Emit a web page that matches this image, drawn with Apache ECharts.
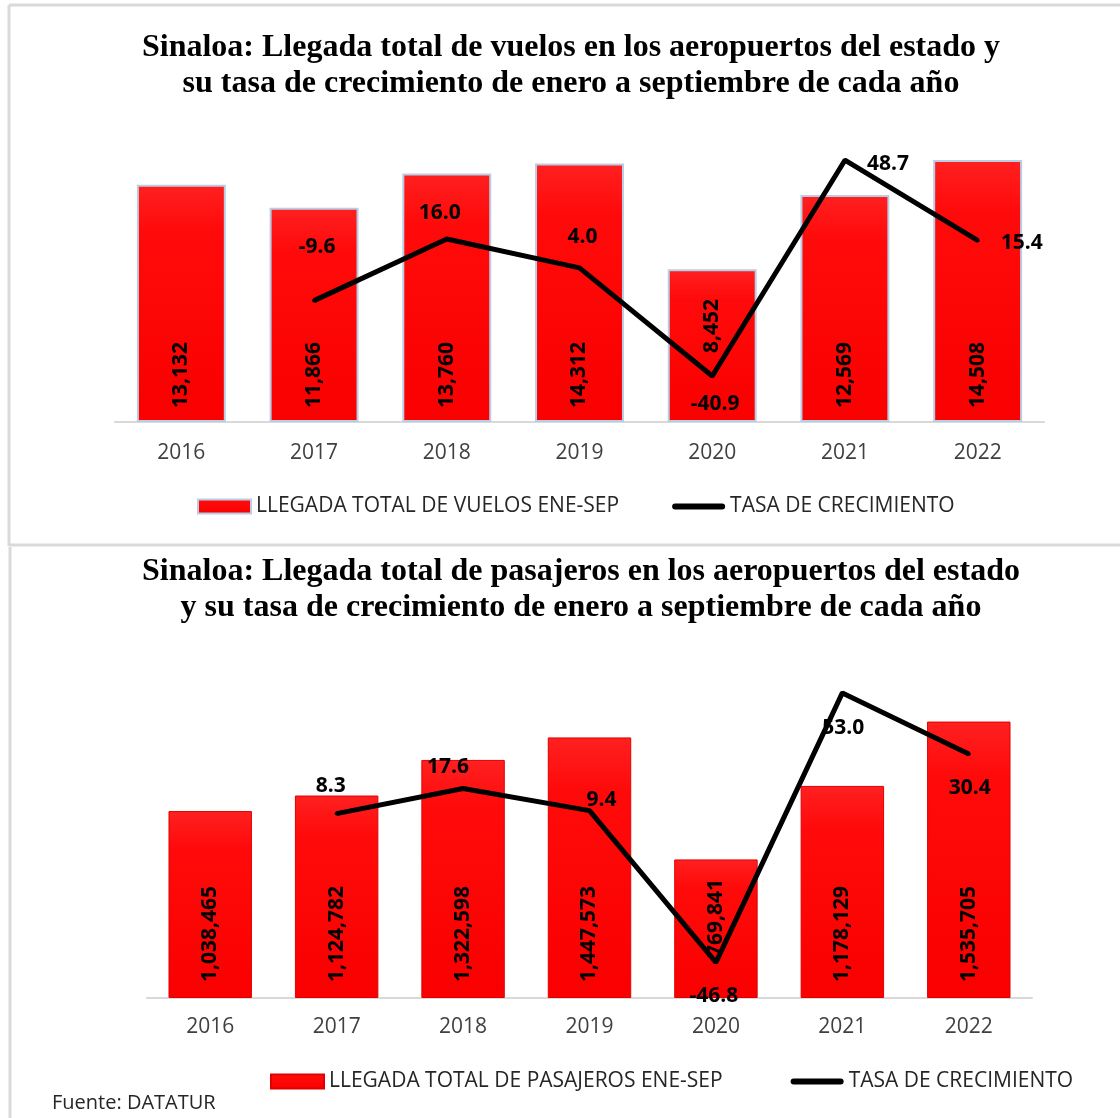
<!DOCTYPE html>
<html>
<head>
<meta charset="utf-8">
<script src="https://cdn.jsdelivr.net/npm/echarts@6/dist/echarts.min.js"></script>
<style>
  body { margin: 0; background: #fff; }
  #vuelos { position: absolute; left: 0; top: 0; width: 1120px; height: 547px; }
  #pasajeros { position: absolute; left: 0; top: 547px; width: 1120px; height: 571px; }
</style>
</head>
<body>
<div id="vuelos"></div>
<div id="pasajeros"></div>
<script>
// años
const years = ['2016', '2017', '2018', '2019', '2020', '2021', '2022'];
// llegada total de vuelos ene-sep
const flights = [13132, 11866, 13760, 14312, 8452, 12569, 14508];
// tasa de crecimiento vuelos
const flightGrowth = [null, -9.6, 16.0, 4.0, -40.9, 48.7, 15.4];
// llegada total de pasajeros ene-sep
const passengers = [1038465, 1124782, 1322598, 1447573, 769841, 1178129, 1535705];
// tasa de crecimiento pasajeros
const passengerGrowth = [null, 8.3, 17.6, 9.4, -46.8, 53.0, 30.4];

// etiquetas de la línea: desplazamiento respecto al punto
const flightGrowthOffset = [null, [3, -54], [-7, -26], [3, -31], [3, 28], [43, 4], [44, 3]];
const passengerGrowthOffset = [null, [-6, -28], [-15, -21], [12, -11], [-2, 34], [1, 35], [1, 34]];

const sans = 'Open Sans';

function buildOption(cfg) {
    let barData = cfg.bars.map(function (v, i) {
        let item = { value: v };
        if (cfg.barLabelDistance[i] !== undefined) {
            item.label = { distance: cfg.barLabelDistance[i] };
        }
        return item;
    });
    let lineData = cfg.growth.map(function (v, i) {
        if (v === null) return '-';
        return { value: v, label: { offset: cfg.growthOffset[i] } };
    });
    return {
        animation: false,
        title: {
            text: cfg.title,
            left: cfg.titleCenter,
            textAlign: 'center',
            top: cfg.titleTop,
            padding: 0,
            textStyle: {
                fontFamily: 'Liberation Serif',
                fontWeight: 'bold',
                fontSize: 32,
                lineHeight: 36,
                color: '#000'
            }
        },
        legend: {
            left: cfg.legendLeft,
            top: cfg.legendTop,
            padding: 0,
            itemWidth: 53,
            itemHeight: 14,
            itemGap: cfg.legendGap,
            textStyle: { fontFamily: sans, fontSize: 21, color: '#262626' },
            data: [
                { name: cfg.barName, icon: 'rect' },
                { name: 'TASA DE CRECIMIENTO', icon: 'path://M3,0 L50,0 A3,3 0 0 1 50,6 L3,6 A3,3 0 0 1 3,0 Z' }
            ]
        },
        grid: cfg.grid,
        xAxis: {
            type: 'category',
            data: years,
            axisTick: { show: false },
            axisLine: { lineStyle: { color: '#d9d9d9', width: 2 } },
            axisLabel: { fontFamily: sans, fontSize: 21, color: '#404040', margin: cfg.xLabelMargin }
        },
        yAxis: [{
            type: 'value',
            min: 0,
            max: cfg.barMax,
            show: false
        }, {
            type: 'value',
            min: -60,
            max: 60,
            show: false
        }],
        graphic: cfg.borders,
        series: [{
            name: cfg.barName,
            type: 'bar',
            barCategoryGap: cfg.barGap,
            data: barData,
            itemStyle: {
                color: new echarts.graphic.LinearGradient(0, 0, 0, 1, [
                    { offset: 0, color: '#ff2020' },
                    { offset: 0.2, color: '#ff0a0a' },
                    { offset: 1, color: '#fa0000' }
                ]),
                borderColor: cfg.barBorder,
                borderWidth: cfg.barBorderWidth
            },
            label: {
                show: true,
                position: 'insideBottom',
                distance: cfg.barLabelBase,
                rotate: 90,
                align: 'left',
                verticalAlign: 'middle',
                fontFamily: sans,
                fontWeight: 'bold',
                fontSize: 21,
                color: '#000',
                formatter: function (p) { return p.value.toLocaleString('en-US'); }
            }
        }, {
            name: 'TASA DE CRECIMIENTO',
            type: 'line',
            yAxisIndex: 1,
            data: lineData,
            symbol: 'circle',
            symbolSize: 4,
            z: 5,
            lineStyle: { color: '#000', width: 5 },
            itemStyle: { color: '#000' },
            label: {
                show: true,
                position: 'inside',
                fontFamily: sans,
                fontWeight: 'bold',
                fontSize: 21,
                color: '#000',
                formatter: function (p) { return p.value.toFixed(1); }
            }
        }]
    };
}

let borderStyle = { stroke: '#d9d9d9', lineWidth: 3 };

let chartVuelos = echarts.init(document.getElementById('vuelos'));
chartVuelos.setOption(buildOption({
    title: 'Sinaloa: Llegada total de vuelos en los aeropuertos del estado y\nsu tasa de crecimiento de enero a septiembre de cada año',
    titleTop: 30,
    titleCenter: 571,
    barName: 'LLEGADA TOTAL DE VUELOS ENE-SEP',
    bars: flights,
    growth: flightGrowth,
    growthOffset: flightGrowthOffset,
    barMax: 16000,
    barGap: '33%',
    barBorder: '#b9cde5',
    barBorderWidth: 2,
    barLabelBase: 14,
    barLabelDistance: [undefined, undefined, undefined, undefined, 69],
    grid: { left: 115, right: 76, top: 133, bottom: 125 },
    xLabelMargin: 21,
    legendLeft: 197,
    legendTop: 496,
    legendGap: 53,
    borders: [
        { type: 'line', shape: { x1: 9, y1: 5, x2: 9, y2: 546 }, style: borderStyle },
        { type: 'line', shape: { x1: 9, y1: 5, x2: 1120, y2: 5 }, style: borderStyle },
        { type: 'line', shape: { x1: 9, y1: 545, x2: 1120, y2: 545 }, style: borderStyle }
    ]
}));

let chartPasajeros = echarts.init(document.getElementById('pasajeros'));
chartPasajeros.setOption(buildOption({
    title: 'Sinaloa: Llegada total de pasajeros en los aeropuertos del estado\ny su tasa de crecimiento de enero a septiembre de cada año',
    titleTop: 7,
    titleCenter: 581,
    barName: 'LLEGADA TOTAL DE PASAJEROS ENE-SEP',
    bars: passengers,
    growth: passengerGrowth,
    growthOffset: passengerGrowthOffset,
    barMax: 1800000,
    barGap: '34%',
    barBorder: '#e00000',
    barBorderWidth: 1,
    barLabelBase: 16,
    barLabelDistance: [undefined, undefined, undefined, undefined, 41],
    grid: { left: 147, right: 88, top: 127, bottom: 120 },
    xLabelMargin: 19,
    legendLeft: 270,
    legendTop: 524,
    legendGap: 68,
    borders: [
        { type: 'line', shape: { x1: 10, y1: 0, x2: 10, y2: 571 }, style: borderStyle },
        {
            type: 'text',
            left: 52,
            top: 546,
            style: { text: 'Fuente: DATATUR', fontFamily: sans, fontSize: 20, fill: '#262626' }
        }
    ]
}));
</script>
</body>
</html>
